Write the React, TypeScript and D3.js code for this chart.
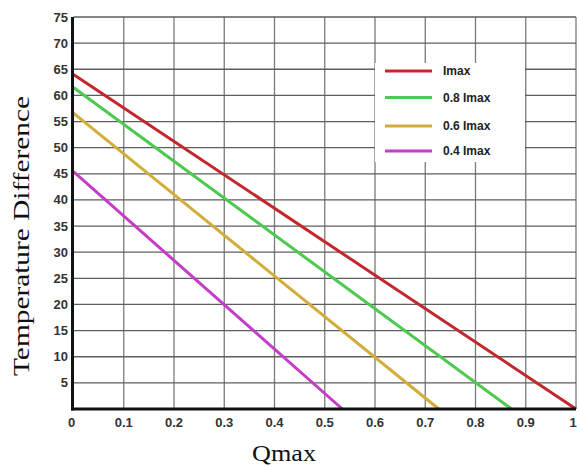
import React from "react";
import * as d3 from "d3";

const seriesNames = ["Imax", "0.8 Imax", "0.6 Imax", "0.4 Imax"];
const seriesColors = ["#c1272d", "#4cc94f", "#d2ad3a", "#c43cc8"];
// Temperature difference at Qmax = 0
const dtMax = [64, 61.5, 56.6, 45.4];
// Qmax at temperature difference = 0
const qMaxAtZero = [1.0, 0.872, 0.727, 0.535];
const xTicks = [0, 0.1, 0.2, 0.3, 0.4, 0.5, 0.6, 0.7, 0.8, 0.9, 1];
const yTicks = [5, 10, 15, 20, 25, 30, 35, 40, 45, 50, 55, 60, 65, 70, 75];

const W = 577;
const H = 466;

export default function App() {
  const x = d3.scaleLinear().domain([0, 1]).range([73.5, 576]);
  const y = d3.scaleLinear().domain([0, 75]).range([409, 17]);
  const line = d3
    .line<[number, number]>()
    .x((d) => x(d[0]))
    .y((d) => y(d[1]));

  const tickFont = {
    fontFamily: "'Liberation Sans', Arial, sans-serif",
    fontWeight: 700,
    fontSize: 13,
    fill: "#333",
  } as const;

  return (
    <svg
      width={W}
      height={H}
      style={{ position: "absolute", left: 0, top: 0, background: "#fff" }}
    >
      <rect x={0} y={0} width={W} height={H} fill="#fff" />
      {/* grid */}
      {xTicks.slice(1).map((t) => (
        <line key={"gx" + t} x1={x(t)} x2={x(t)} y1={y(75)} y2={y(0)} stroke="#7a7a7a" strokeWidth={1.3} />
      ))}
      {yTicks.map((t) => (
        <line key={"gy" + t} x1={x(0)} x2={x(1)} y1={y(t)} y2={y(t)} stroke="#5e5e5e" strokeWidth={1.3} />
      ))}
      {/* legend background */}
      <rect x={375} y={63} width={150} height={99} fill="#fff" />
      {/* series */}
      {seriesNames.map((n, i) => (
        <path
          key={n}
          d={line([
            [0, dtMax[i]],
            [qMaxAtZero[i], 0],
          ]) as string}
          stroke={seriesColors[i]}
          strokeWidth={3}
          fill="none"
        />
      ))}
      {/* axes */}
      <line x1={x(0) - 1} x2={x(0) - 1} y1={y(75)} y2={y(0) + 1.5} stroke="#111" strokeWidth={3} />
      <line x1={x(0) - 2.5} x2={x(1)} y1={y(0)} y2={y(0)} stroke="#111" strokeWidth={3} />
      {/* y tick labels */}
      {yTicks.map((t) => (
        <text key={"ty" + t} x={68} y={y(t)} dy="0.35em" textAnchor="end" {...tickFont}>
          {t}
        </text>
      ))}
      {/* x tick labels */}
      {xTicks.map((t) => (
        <text
          key={"tx" + t}
          x={t === 1 ? x(t) - 3 : x(t) - (t === 0 ? 2 : 0)}
          y={427}
          textAnchor="middle"
          {...tickFont}
        >
          {String(t)}
        </text>
      ))}
      {/* legend */}
      {seriesNames.map((n, i) => {
        const ly = [71, 97.5, 126, 151][i];
        return (
          <g key={"lg" + n}>
            <line x1={385} x2={432} y1={ly} y2={ly} stroke={seriesColors[i]} strokeWidth={3} />
            <text x={443} y={ly} dy="0.35em" {...tickFont} fontSize={12} fill="#222">
              {n}
            </text>
          </g>
        );
      })}
      {/* axis titles */}
      <text
        x={284}
        y={461}
        textAnchor="middle"
        fontFamily="'Liberation Serif', 'Times New Roman', serif"
        fontSize={24}
        textLength={64}
        lengthAdjust="spacingAndGlyphs"
        fill="#111"
      >
        Qmax
      </text>
      <text
        transform="translate(29,236) rotate(-90)"
        textAnchor="middle"
        fontFamily="'Liberation Serif', 'Times New Roman', serif"
        fontSize={23}
        textLength={280}
        lengthAdjust="spacingAndGlyphs"
        fill="#111"
      >
        Temperature Difference
      </text>
    </svg>
  );
}
